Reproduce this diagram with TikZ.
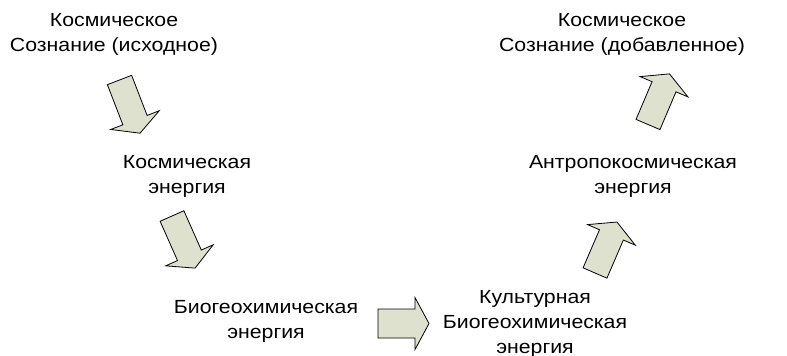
\documentclass[tikz,border=0pt]{standalone}
\usepackage{fontspec}
\setmainfont[FakeStretch=1.12]{Liberation Sans}
\definecolor{arrfill}{RGB}{221,225,206}
\tikzset{
  lbl/.style={align=center, font=\fontsize{19}{25}\selectfont, inner sep=0pt, text depth=0pt},
  barrowstyle/.style={fill=arrfill, draw=black, line width=0.8pt, line join=miter}
}
\newcommand{\blockarrow}[5]{% x, y, angle, length, shaft half width
  \begin{scope}[shift={(#1,#2)}, rotate=#3]
    \draw[barrowstyle] (0,-#5) -- ({#4-14},-#5) -- ({#4-14},-26) -- (#4,0)
      -- ({#4-14},26) -- ({#4-14},#5) -- (0,#5) -- cycle;
  \end{scope}}
\begin{document}
\begin{tikzpicture}[x=1pt,y=1pt]
\useasboundingbox (0,0) rectangle (787,-356);
\node[lbl] (n1) at (114,-32) {Космическое\\Сознание (исходное)};
\node[lbl] (n2) at (187,-174) {Космическая\\энергия};
\node[lbl] (n3) at (266,-319) {Биогеохимическая\\энергия};
\node[lbl] (n4) at (535,-322) {Культурная\\Биогеохимическая\\энергия};
\node[lbl] (n5) at (633,-174) {Антропокосмическая\\энергия};
\node[lbl] (n6) at (622,-32) {Космическое\\Сознание (добавленное)};
\blockarrow{119.5}{-80}{-68.9}{57}{13}
\blockarrow{172}{-216}{-66.1}{57}{13}
\blockarrow{378}{-323.5}{0}{51}{14.5}
\blockarrow{595}{-273}{66.7}{55.5}{13}
\blockarrow{648}{-124.5}{67}{55}{13}
\end{tikzpicture}
\end{document}
